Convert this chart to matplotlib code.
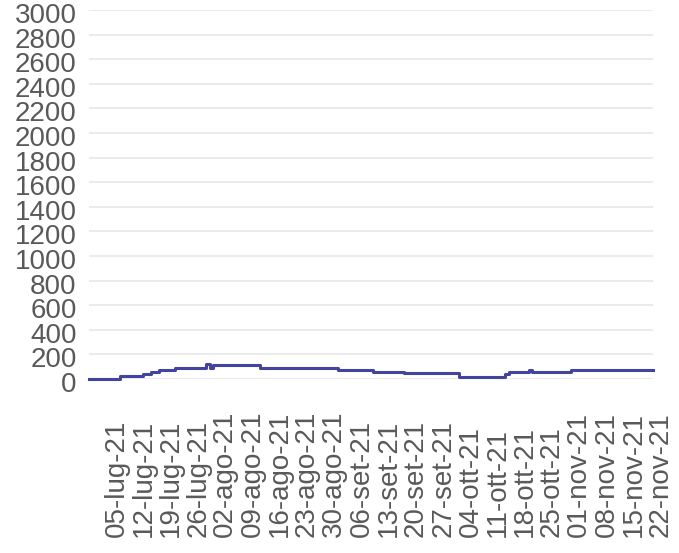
import numpy as np
import matplotlib.pyplot as plt
import matplotlib.dates as mdates
import matplotlib.transforms as mtransforms
from datetime import date

# step changes of the series (date of change, value from that day on)
change_dates = ["2021-06-30", "2021-07-08", "2021-07-14", "2021-07-16", "2021-07-18",
                "2021-07-22", "2021-07-30", "2021-07-31", "2021-08-01", "2021-08-13",
                "2021-09-02", "2021-09-11", "2021-09-19", "2021-10-03", "2021-10-15",
                "2021-10-16", "2021-10-21", "2021-10-22", "2021-11-01", "2021-11-22"]
values = [3, 23, 42, 59, 76,
          93, 121, 93, 113, 90,
          70, 57, 45, 20, 42,
          59, 73, 56, 73, 73]

tick_dates = np.arange(np.datetime64("2021-07-05"), np.datetime64("2021-11-23"), 7)
months_it = ["gen", "feb", "mar", "apr", "mag", "giu", "lug", "ago", "set", "ott", "nov", "dic"]
tick_labels = []
for d in tick_dates.astype(object):
    tick_labels.append(f"{d.day:02d}-{months_it[d.month - 1]}-{d.year % 100:02d}")

x = np.array(change_dates, dtype="datetime64[D]").astype(object)

plt.rcParams["font.family"] = ["Liberation Sans", "DejaVu Sans"]
txt = "#595959"

fig = plt.figure(figsize=(6.79, 5.53), dpi=100)
ax = fig.add_axes([89 / 679, 174 / 553, 564 / 679, 369 / 553])

ax.plot(x, values, drawstyle="steps-post", color="#4343a0", linewidth=2.2,
        clip_on=False, zorder=3)

ax.set_xlim(date(2021, 6, 30), date(2021, 11, 22))
ax.set_ylim(0, 3000)
ax.set_yticks(np.arange(0, 3001, 200))
ax.yaxis.grid(True, color="#ebebeb", linewidth=1.5)
ax.set_axisbelow(True)
for s in ax.spines.values():
    s.set_visible(False)

ax.set_xticks(tick_dates.astype(object))
ax.set_xticklabels(tick_labels)
ax.tick_params(axis="y", length=0, pad=9, labelsize=20, labelcolor=txt)
ax.tick_params(axis="x", length=0, pad=114, labelsize=20, labelcolor=txt)

offset = mtransforms.ScaledTranslation(8 / 100, 0, fig.dpi_scale_trans)
for lbl in ax.get_xticklabels():
    lbl.set_rotation(90)
    lbl.set_rotation_mode("anchor")
    lbl.set_ha("left")
    lbl.set_va("center")
    lbl.set_transform(lbl.get_transform() + offset)
for lbl in ax.get_yticklabels():
    lbl.set_transform(lbl.get_transform() + mtransforms.ScaledTranslation(0, -3 / 100, fig.dpi_scale_trans))

fig.savefig("out.png", dpi=100)
